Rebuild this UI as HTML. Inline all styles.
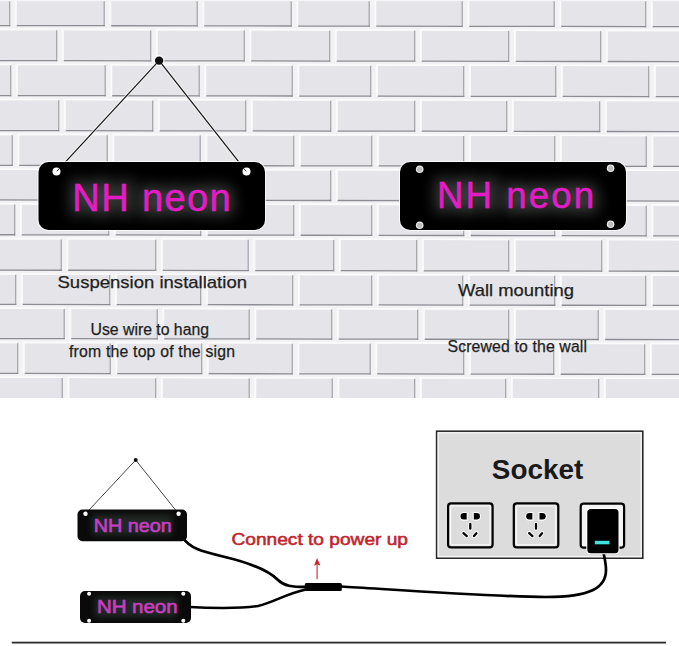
<!DOCTYPE html>
<html><head><meta charset="utf-8">
<style>
html,body{margin:0;padding:0;background:#fff;width:679px;height:646px;overflow:hidden}
svg{display:block}
text{font-family:"Liberation Sans",sans-serif}
</style></head><body>
<svg width="679" height="646" viewBox="0 0 679 646">
<defs>
<filter id="glow" x="-20%" y="-50%" width="140%" height="200%">
<feGaussianBlur stdDeviation="7"/>
</filter>
<filter id="halo" x="-10%" y="-30%" width="120%" height="160%">
<feGaussianBlur stdDeviation="1.2"/>
</filter>
<filter id="soft" x="0" y="0" width="100%" height="100%"><feGaussianBlur stdDeviation="0.45"/></filter>
<filter id="glow2" x="-20%" y="-50%" width="140%" height="200%">
<feGaussianBlur stdDeviation="3"/>
</filter>
</defs>
<g filter="url(#soft)"><rect x="0" y="0" width="679" height="398" fill="#f2f2f4"/><g transform="matrix(1 0.0016 0 1 0 0)">
<rect x="-10.0" y="0.0" width="19.7" height="25.6" fill="#e5e5e9"/>
<rect x="9.1" y="0.0" width="1.2" height="26.2" fill="#a0a1a6"/>
<rect x="-10.0" y="24.9" width="20.3" height="1.3" fill="#8c8d92"/>
<rect x="16.7" y="0.0" width="87.5" height="25.6" fill="#e5e5e9"/>
<rect x="14.9" y="0.0" width="1.8" height="25.6" fill="#fbfbfc"/>
<rect x="103.6" y="0.0" width="1.2" height="26.2" fill="#a0a1a6"/>
<rect x="16.7" y="24.9" width="88.1" height="1.3" fill="#8c8d92"/>
<rect x="111.2" y="0.0" width="86.0" height="25.6" fill="#e5e5e9"/>
<rect x="109.4" y="0.0" width="1.8" height="25.6" fill="#fbfbfc"/>
<rect x="196.6" y="0.0" width="1.2" height="26.2" fill="#a0a1a6"/>
<rect x="111.2" y="24.9" width="86.6" height="1.3" fill="#8c8d92"/>
<rect x="204.2" y="0.0" width="87.0" height="25.6" fill="#e5e5e9"/>
<rect x="202.4" y="0.0" width="1.8" height="25.6" fill="#fbfbfc"/>
<rect x="290.6" y="0.0" width="1.2" height="26.2" fill="#a0a1a6"/>
<rect x="204.2" y="24.9" width="87.6" height="1.3" fill="#8c8d92"/>
<rect x="298.2" y="0.0" width="71.0" height="25.6" fill="#e5e5e9"/>
<rect x="296.4" y="0.0" width="1.8" height="25.6" fill="#fbfbfc"/>
<rect x="368.6" y="0.0" width="1.2" height="26.2" fill="#a0a1a6"/>
<rect x="298.2" y="24.9" width="71.6" height="1.3" fill="#8c8d92"/>
<rect x="376.2" y="0.0" width="86.0" height="25.6" fill="#e5e5e9"/>
<rect x="374.4" y="0.0" width="1.8" height="25.6" fill="#fbfbfc"/>
<rect x="461.6" y="0.0" width="1.2" height="26.2" fill="#a0a1a6"/>
<rect x="376.2" y="24.9" width="86.6" height="1.3" fill="#8c8d92"/>
<rect x="469.2" y="0.0" width="85.0" height="25.6" fill="#e5e5e9"/>
<rect x="467.4" y="0.0" width="1.8" height="25.6" fill="#fbfbfc"/>
<rect x="553.6" y="0.0" width="1.2" height="26.2" fill="#a0a1a6"/>
<rect x="469.2" y="24.9" width="85.6" height="1.3" fill="#8c8d92"/>
<rect x="561.2" y="0.0" width="84.5" height="25.6" fill="#e5e5e9"/>
<rect x="559.4" y="0.0" width="1.8" height="25.6" fill="#fbfbfc"/>
<rect x="645.1" y="0.0" width="1.2" height="26.2" fill="#a0a1a6"/>
<rect x="561.2" y="24.9" width="85.1" height="1.3" fill="#8c8d92"/>
<rect x="652.7" y="0.0" width="36.3" height="25.6" fill="#e5e5e9"/>
<rect x="650.9" y="0.0" width="1.8" height="25.6" fill="#fbfbfc"/>
<rect x="652.7" y="24.9" width="36.9" height="1.3" fill="#8c8d92"/>
<rect x="-10.0" y="30.2" width="66.7" height="30.4" fill="#e5e5e9"/>
<rect x="-12.0" y="28.6" width="68.7" height="1.6" fill="#fbfbfc"/>
<rect x="56.1" y="30.2" width="1.2" height="31.0" fill="#a0a1a6"/>
<rect x="-10.0" y="59.9" width="67.3" height="1.3" fill="#8c8d92"/>
<rect x="63.7" y="30.2" width="87.0" height="30.4" fill="#e5e5e9"/>
<rect x="61.7" y="28.6" width="89.0" height="1.6" fill="#fbfbfc"/>
<rect x="61.9" y="30.2" width="1.8" height="30.4" fill="#fbfbfc"/>
<rect x="150.1" y="30.2" width="1.2" height="31.0" fill="#a0a1a6"/>
<rect x="63.7" y="59.9" width="87.6" height="1.3" fill="#8c8d92"/>
<rect x="157.7" y="30.2" width="86.5" height="30.4" fill="#e5e5e9"/>
<rect x="155.7" y="28.6" width="88.5" height="1.6" fill="#fbfbfc"/>
<rect x="155.9" y="30.2" width="1.8" height="30.4" fill="#fbfbfc"/>
<rect x="243.6" y="30.2" width="1.2" height="31.0" fill="#a0a1a6"/>
<rect x="157.7" y="59.9" width="87.1" height="1.3" fill="#8c8d92"/>
<rect x="251.2" y="30.2" width="78.5" height="30.4" fill="#e5e5e9"/>
<rect x="249.2" y="28.6" width="80.5" height="1.6" fill="#fbfbfc"/>
<rect x="249.4" y="30.2" width="1.8" height="30.4" fill="#fbfbfc"/>
<rect x="329.1" y="30.2" width="1.2" height="31.0" fill="#a0a1a6"/>
<rect x="251.2" y="59.9" width="79.1" height="1.3" fill="#8c8d92"/>
<rect x="336.7" y="30.2" width="78.0" height="30.4" fill="#e5e5e9"/>
<rect x="334.7" y="28.6" width="80.0" height="1.6" fill="#fbfbfc"/>
<rect x="334.9" y="30.2" width="1.8" height="30.4" fill="#fbfbfc"/>
<rect x="414.1" y="30.2" width="1.2" height="31.0" fill="#a0a1a6"/>
<rect x="336.7" y="59.9" width="78.6" height="1.3" fill="#8c8d92"/>
<rect x="421.7" y="30.2" width="87.0" height="30.4" fill="#e5e5e9"/>
<rect x="419.7" y="28.6" width="89.0" height="1.6" fill="#fbfbfc"/>
<rect x="419.9" y="30.2" width="1.8" height="30.4" fill="#fbfbfc"/>
<rect x="508.1" y="30.2" width="1.2" height="31.0" fill="#a0a1a6"/>
<rect x="421.7" y="59.9" width="87.6" height="1.3" fill="#8c8d92"/>
<rect x="515.7" y="30.2" width="85.0" height="30.4" fill="#e5e5e9"/>
<rect x="513.7" y="28.6" width="87.0" height="1.6" fill="#fbfbfc"/>
<rect x="513.9" y="30.2" width="1.8" height="30.4" fill="#fbfbfc"/>
<rect x="600.1" y="30.2" width="1.2" height="31.0" fill="#a0a1a6"/>
<rect x="515.7" y="59.9" width="85.6" height="1.3" fill="#8c8d92"/>
<rect x="607.7" y="30.2" width="81.3" height="30.4" fill="#e5e5e9"/>
<rect x="605.7" y="28.6" width="83.3" height="1.6" fill="#fbfbfc"/>
<rect x="605.9" y="30.2" width="1.8" height="30.4" fill="#fbfbfc"/>
<rect x="607.7" y="59.9" width="81.9" height="1.3" fill="#8c8d92"/>
<rect x="-10.0" y="65.2" width="20.7" height="30.4" fill="#e5e5e9"/>
<rect x="-12.0" y="63.6" width="22.7" height="1.6" fill="#fbfbfc"/>
<rect x="10.1" y="65.2" width="1.2" height="31.0" fill="#a0a1a6"/>
<rect x="-10.0" y="94.9" width="21.3" height="1.3" fill="#8c8d92"/>
<rect x="17.7" y="65.2" width="87.5" height="30.4" fill="#e5e5e9"/>
<rect x="15.7" y="63.6" width="89.5" height="1.6" fill="#fbfbfc"/>
<rect x="15.9" y="65.2" width="1.8" height="30.4" fill="#fbfbfc"/>
<rect x="104.6" y="65.2" width="1.2" height="31.0" fill="#a0a1a6"/>
<rect x="17.7" y="94.9" width="88.1" height="1.3" fill="#8c8d92"/>
<rect x="112.2" y="65.2" width="87.0" height="30.4" fill="#e5e5e9"/>
<rect x="110.2" y="63.6" width="89.0" height="1.6" fill="#fbfbfc"/>
<rect x="110.4" y="65.2" width="1.8" height="30.4" fill="#fbfbfc"/>
<rect x="198.6" y="65.2" width="1.2" height="31.0" fill="#a0a1a6"/>
<rect x="112.2" y="94.9" width="87.6" height="1.3" fill="#8c8d92"/>
<rect x="206.2" y="65.2" width="86.0" height="30.4" fill="#e5e5e9"/>
<rect x="204.2" y="63.6" width="88.0" height="1.6" fill="#fbfbfc"/>
<rect x="204.4" y="65.2" width="1.8" height="30.4" fill="#fbfbfc"/>
<rect x="291.6" y="65.2" width="1.2" height="31.0" fill="#a0a1a6"/>
<rect x="206.2" y="94.9" width="86.6" height="1.3" fill="#8c8d92"/>
<rect x="299.2" y="65.2" width="71.5" height="30.4" fill="#e5e5e9"/>
<rect x="297.2" y="63.6" width="73.5" height="1.6" fill="#fbfbfc"/>
<rect x="297.4" y="65.2" width="1.8" height="30.4" fill="#fbfbfc"/>
<rect x="370.1" y="65.2" width="1.2" height="31.0" fill="#a0a1a6"/>
<rect x="299.2" y="94.9" width="72.1" height="1.3" fill="#8c8d92"/>
<rect x="377.7" y="65.2" width="86.0" height="30.4" fill="#e5e5e9"/>
<rect x="375.7" y="63.6" width="88.0" height="1.6" fill="#fbfbfc"/>
<rect x="375.9" y="65.2" width="1.8" height="30.4" fill="#fbfbfc"/>
<rect x="463.1" y="65.2" width="1.2" height="31.0" fill="#a0a1a6"/>
<rect x="377.7" y="94.9" width="86.6" height="1.3" fill="#8c8d92"/>
<rect x="470.7" y="65.2" width="85.0" height="30.4" fill="#e5e5e9"/>
<rect x="468.7" y="63.6" width="87.0" height="1.6" fill="#fbfbfc"/>
<rect x="468.9" y="65.2" width="1.8" height="30.4" fill="#fbfbfc"/>
<rect x="555.1" y="65.2" width="1.2" height="31.0" fill="#a0a1a6"/>
<rect x="470.7" y="94.9" width="85.6" height="1.3" fill="#8c8d92"/>
<rect x="562.7" y="65.2" width="86.0" height="30.4" fill="#e5e5e9"/>
<rect x="560.7" y="63.6" width="88.0" height="1.6" fill="#fbfbfc"/>
<rect x="560.9" y="65.2" width="1.8" height="30.4" fill="#fbfbfc"/>
<rect x="648.1" y="65.2" width="1.2" height="31.0" fill="#a0a1a6"/>
<rect x="562.7" y="94.9" width="86.6" height="1.3" fill="#8c8d92"/>
<rect x="655.7" y="65.2" width="33.3" height="30.4" fill="#e5e5e9"/>
<rect x="653.7" y="63.6" width="35.3" height="1.6" fill="#fbfbfc"/>
<rect x="653.9" y="65.2" width="1.8" height="30.4" fill="#fbfbfc"/>
<rect x="655.7" y="94.9" width="33.9" height="1.3" fill="#8c8d92"/>
<rect x="-10.0" y="100.2" width="68.7" height="30.4" fill="#e5e5e9"/>
<rect x="-12.0" y="98.6" width="70.7" height="1.6" fill="#fbfbfc"/>
<rect x="58.1" y="100.2" width="1.2" height="31.0" fill="#a0a1a6"/>
<rect x="-10.0" y="129.9" width="69.3" height="1.3" fill="#8c8d92"/>
<rect x="65.7" y="100.2" width="87.0" height="30.4" fill="#e5e5e9"/>
<rect x="63.7" y="98.6" width="89.0" height="1.6" fill="#fbfbfc"/>
<rect x="63.9" y="100.2" width="1.8" height="30.4" fill="#fbfbfc"/>
<rect x="152.1" y="100.2" width="1.2" height="31.0" fill="#a0a1a6"/>
<rect x="65.7" y="129.9" width="87.6" height="1.3" fill="#8c8d92"/>
<rect x="159.7" y="100.2" width="86.0" height="30.4" fill="#e5e5e9"/>
<rect x="157.7" y="98.6" width="88.0" height="1.6" fill="#fbfbfc"/>
<rect x="157.9" y="100.2" width="1.8" height="30.4" fill="#fbfbfc"/>
<rect x="245.1" y="100.2" width="1.2" height="31.0" fill="#a0a1a6"/>
<rect x="159.7" y="129.9" width="86.6" height="1.3" fill="#8c8d92"/>
<rect x="252.7" y="100.2" width="78.0" height="30.4" fill="#e5e5e9"/>
<rect x="250.7" y="98.6" width="80.0" height="1.6" fill="#fbfbfc"/>
<rect x="250.9" y="100.2" width="1.8" height="30.4" fill="#fbfbfc"/>
<rect x="330.1" y="100.2" width="1.2" height="31.0" fill="#a0a1a6"/>
<rect x="252.7" y="129.9" width="78.6" height="1.3" fill="#8c8d92"/>
<rect x="337.7" y="100.2" width="77.0" height="30.4" fill="#e5e5e9"/>
<rect x="335.7" y="98.6" width="79.0" height="1.6" fill="#fbfbfc"/>
<rect x="335.9" y="100.2" width="1.8" height="30.4" fill="#fbfbfc"/>
<rect x="414.1" y="100.2" width="1.2" height="31.0" fill="#a0a1a6"/>
<rect x="337.7" y="129.9" width="77.6" height="1.3" fill="#8c8d92"/>
<rect x="421.7" y="100.2" width="85.0" height="30.4" fill="#e5e5e9"/>
<rect x="419.7" y="98.6" width="87.0" height="1.6" fill="#fbfbfc"/>
<rect x="419.9" y="100.2" width="1.8" height="30.4" fill="#fbfbfc"/>
<rect x="506.1" y="100.2" width="1.2" height="31.0" fill="#a0a1a6"/>
<rect x="421.7" y="129.9" width="85.6" height="1.3" fill="#8c8d92"/>
<rect x="513.7" y="100.2" width="86.0" height="30.4" fill="#e5e5e9"/>
<rect x="511.7" y="98.6" width="88.0" height="1.6" fill="#fbfbfc"/>
<rect x="511.9" y="100.2" width="1.8" height="30.4" fill="#fbfbfc"/>
<rect x="599.1" y="100.2" width="1.2" height="31.0" fill="#a0a1a6"/>
<rect x="513.7" y="129.9" width="86.6" height="1.3" fill="#8c8d92"/>
<rect x="606.7" y="100.2" width="82.3" height="30.4" fill="#e5e5e9"/>
<rect x="604.7" y="98.6" width="84.3" height="1.6" fill="#fbfbfc"/>
<rect x="604.9" y="100.2" width="1.8" height="30.4" fill="#fbfbfc"/>
<rect x="606.7" y="129.9" width="82.9" height="1.3" fill="#8c8d92"/>
<rect x="-10.0" y="135.2" width="22.2" height="30.2" fill="#e5e5e9"/>
<rect x="-12.0" y="133.6" width="24.2" height="1.6" fill="#fbfbfc"/>
<rect x="11.6" y="135.2" width="1.2" height="30.8" fill="#a0a1a6"/>
<rect x="-10.0" y="164.7" width="22.8" height="1.3" fill="#8c8d92"/>
<rect x="19.2" y="135.2" width="88.0" height="30.2" fill="#e5e5e9"/>
<rect x="17.2" y="133.6" width="90.0" height="1.6" fill="#fbfbfc"/>
<rect x="17.4" y="135.2" width="1.8" height="30.2" fill="#fbfbfc"/>
<rect x="106.6" y="135.2" width="1.2" height="30.8" fill="#a0a1a6"/>
<rect x="19.2" y="164.7" width="88.6" height="1.3" fill="#8c8d92"/>
<rect x="114.2" y="135.2" width="86.0" height="30.2" fill="#e5e5e9"/>
<rect x="112.2" y="133.6" width="88.0" height="1.6" fill="#fbfbfc"/>
<rect x="112.4" y="135.2" width="1.8" height="30.2" fill="#fbfbfc"/>
<rect x="199.6" y="135.2" width="1.2" height="30.8" fill="#a0a1a6"/>
<rect x="114.2" y="164.7" width="86.6" height="1.3" fill="#8c8d92"/>
<rect x="207.2" y="135.2" width="86.5" height="30.2" fill="#e5e5e9"/>
<rect x="205.2" y="133.6" width="88.5" height="1.6" fill="#fbfbfc"/>
<rect x="205.4" y="135.2" width="1.8" height="30.2" fill="#fbfbfc"/>
<rect x="293.1" y="135.2" width="1.2" height="30.8" fill="#a0a1a6"/>
<rect x="207.2" y="164.7" width="87.1" height="1.3" fill="#8c8d92"/>
<rect x="300.7" y="135.2" width="71.0" height="30.2" fill="#e5e5e9"/>
<rect x="298.7" y="133.6" width="73.0" height="1.6" fill="#fbfbfc"/>
<rect x="298.9" y="135.2" width="1.8" height="30.2" fill="#fbfbfc"/>
<rect x="371.1" y="135.2" width="1.2" height="30.8" fill="#a0a1a6"/>
<rect x="300.7" y="164.7" width="71.6" height="1.3" fill="#8c8d92"/>
<rect x="378.7" y="135.2" width="85.0" height="30.2" fill="#e5e5e9"/>
<rect x="376.7" y="133.6" width="87.0" height="1.6" fill="#fbfbfc"/>
<rect x="376.9" y="135.2" width="1.8" height="30.2" fill="#fbfbfc"/>
<rect x="463.1" y="135.2" width="1.2" height="30.8" fill="#a0a1a6"/>
<rect x="378.7" y="164.7" width="85.6" height="1.3" fill="#8c8d92"/>
<rect x="470.7" y="135.2" width="84.0" height="30.2" fill="#e5e5e9"/>
<rect x="468.7" y="133.6" width="86.0" height="1.6" fill="#fbfbfc"/>
<rect x="468.9" y="135.2" width="1.8" height="30.2" fill="#fbfbfc"/>
<rect x="554.1" y="135.2" width="1.2" height="30.8" fill="#a0a1a6"/>
<rect x="470.7" y="164.7" width="84.6" height="1.3" fill="#8c8d92"/>
<rect x="561.7" y="135.2" width="84.5" height="30.2" fill="#e5e5e9"/>
<rect x="559.7" y="133.6" width="86.5" height="1.6" fill="#fbfbfc"/>
<rect x="559.9" y="135.2" width="1.8" height="30.2" fill="#fbfbfc"/>
<rect x="645.6" y="135.2" width="1.2" height="30.8" fill="#a0a1a6"/>
<rect x="561.7" y="164.7" width="85.1" height="1.3" fill="#8c8d92"/>
<rect x="653.2" y="135.2" width="35.8" height="30.2" fill="#e5e5e9"/>
<rect x="651.2" y="133.6" width="37.8" height="1.6" fill="#fbfbfc"/>
<rect x="651.4" y="135.2" width="1.8" height="30.2" fill="#fbfbfc"/>
<rect x="653.2" y="164.7" width="36.4" height="1.3" fill="#8c8d92"/>
<rect x="-10.0" y="170.0" width="69.7" height="30.0" fill="#e5e5e9"/>
<rect x="-12.0" y="168.4" width="71.7" height="1.6" fill="#fbfbfc"/>
<rect x="59.1" y="170.0" width="1.2" height="30.6" fill="#a0a1a6"/>
<rect x="-10.0" y="199.3" width="70.3" height="1.3" fill="#8c8d92"/>
<rect x="66.7" y="170.0" width="87.0" height="30.0" fill="#e5e5e9"/>
<rect x="64.7" y="168.4" width="89.0" height="1.6" fill="#fbfbfc"/>
<rect x="64.9" y="170.0" width="1.8" height="30.0" fill="#fbfbfc"/>
<rect x="153.1" y="170.0" width="1.2" height="30.6" fill="#a0a1a6"/>
<rect x="66.7" y="199.3" width="87.6" height="1.3" fill="#8c8d92"/>
<rect x="160.7" y="170.0" width="86.0" height="30.0" fill="#e5e5e9"/>
<rect x="158.7" y="168.4" width="88.0" height="1.6" fill="#fbfbfc"/>
<rect x="158.9" y="170.0" width="1.8" height="30.0" fill="#fbfbfc"/>
<rect x="246.1" y="170.0" width="1.2" height="30.6" fill="#a0a1a6"/>
<rect x="160.7" y="199.3" width="86.6" height="1.3" fill="#8c8d92"/>
<rect x="253.7" y="170.0" width="77.0" height="30.0" fill="#e5e5e9"/>
<rect x="251.7" y="168.4" width="79.0" height="1.6" fill="#fbfbfc"/>
<rect x="251.9" y="170.0" width="1.8" height="30.0" fill="#fbfbfc"/>
<rect x="330.1" y="170.0" width="1.2" height="30.6" fill="#a0a1a6"/>
<rect x="253.7" y="199.3" width="77.6" height="1.3" fill="#8c8d92"/>
<rect x="337.7" y="170.0" width="78.0" height="30.0" fill="#e5e5e9"/>
<rect x="335.7" y="168.4" width="80.0" height="1.6" fill="#fbfbfc"/>
<rect x="335.9" y="170.0" width="1.8" height="30.0" fill="#fbfbfc"/>
<rect x="415.1" y="170.0" width="1.2" height="30.6" fill="#a0a1a6"/>
<rect x="337.7" y="199.3" width="78.6" height="1.3" fill="#8c8d92"/>
<rect x="422.7" y="170.0" width="86.0" height="30.0" fill="#e5e5e9"/>
<rect x="420.7" y="168.4" width="88.0" height="1.6" fill="#fbfbfc"/>
<rect x="420.9" y="170.0" width="1.8" height="30.0" fill="#fbfbfc"/>
<rect x="508.1" y="170.0" width="1.2" height="30.6" fill="#a0a1a6"/>
<rect x="422.7" y="199.3" width="86.6" height="1.3" fill="#8c8d92"/>
<rect x="515.7" y="170.0" width="85.0" height="30.0" fill="#e5e5e9"/>
<rect x="513.7" y="168.4" width="87.0" height="1.6" fill="#fbfbfc"/>
<rect x="513.9" y="170.0" width="1.8" height="30.0" fill="#fbfbfc"/>
<rect x="600.1" y="170.0" width="1.2" height="30.6" fill="#a0a1a6"/>
<rect x="515.7" y="199.3" width="85.6" height="1.3" fill="#8c8d92"/>
<rect x="607.7" y="170.0" width="81.3" height="30.0" fill="#e5e5e9"/>
<rect x="605.7" y="168.4" width="83.3" height="1.6" fill="#fbfbfc"/>
<rect x="605.9" y="170.0" width="1.8" height="30.0" fill="#fbfbfc"/>
<rect x="607.7" y="199.3" width="81.9" height="1.3" fill="#8c8d92"/>
<rect x="-10.0" y="204.6" width="24.7" height="30.2" fill="#e5e5e9"/>
<rect x="-12.0" y="203.0" width="26.7" height="1.6" fill="#fbfbfc"/>
<rect x="14.1" y="204.6" width="1.2" height="30.8" fill="#a0a1a6"/>
<rect x="-10.0" y="234.1" width="25.3" height="1.3" fill="#8c8d92"/>
<rect x="21.7" y="204.6" width="87.0" height="30.2" fill="#e5e5e9"/>
<rect x="19.7" y="203.0" width="89.0" height="1.6" fill="#fbfbfc"/>
<rect x="19.9" y="204.6" width="1.8" height="30.2" fill="#fbfbfc"/>
<rect x="108.1" y="204.6" width="1.2" height="30.8" fill="#a0a1a6"/>
<rect x="21.7" y="234.1" width="87.6" height="1.3" fill="#8c8d92"/>
<rect x="115.7" y="204.6" width="85.0" height="30.2" fill="#e5e5e9"/>
<rect x="113.7" y="203.0" width="87.0" height="1.6" fill="#fbfbfc"/>
<rect x="113.9" y="204.6" width="1.8" height="30.2" fill="#fbfbfc"/>
<rect x="200.1" y="204.6" width="1.2" height="30.8" fill="#a0a1a6"/>
<rect x="115.7" y="234.1" width="85.6" height="1.3" fill="#8c8d92"/>
<rect x="207.7" y="204.6" width="86.0" height="30.2" fill="#e5e5e9"/>
<rect x="205.7" y="203.0" width="88.0" height="1.6" fill="#fbfbfc"/>
<rect x="205.9" y="204.6" width="1.8" height="30.2" fill="#fbfbfc"/>
<rect x="293.1" y="204.6" width="1.2" height="30.8" fill="#a0a1a6"/>
<rect x="207.7" y="234.1" width="86.6" height="1.3" fill="#8c8d92"/>
<rect x="300.7" y="204.6" width="71.0" height="30.2" fill="#e5e5e9"/>
<rect x="298.7" y="203.0" width="73.0" height="1.6" fill="#fbfbfc"/>
<rect x="298.9" y="204.6" width="1.8" height="30.2" fill="#fbfbfc"/>
<rect x="371.1" y="204.6" width="1.2" height="30.8" fill="#a0a1a6"/>
<rect x="300.7" y="234.1" width="71.6" height="1.3" fill="#8c8d92"/>
<rect x="378.7" y="204.6" width="85.0" height="30.2" fill="#e5e5e9"/>
<rect x="376.7" y="203.0" width="87.0" height="1.6" fill="#fbfbfc"/>
<rect x="376.9" y="204.6" width="1.8" height="30.2" fill="#fbfbfc"/>
<rect x="463.1" y="204.6" width="1.2" height="30.8" fill="#a0a1a6"/>
<rect x="378.7" y="234.1" width="85.6" height="1.3" fill="#8c8d92"/>
<rect x="470.7" y="204.6" width="84.0" height="30.2" fill="#e5e5e9"/>
<rect x="468.7" y="203.0" width="86.0" height="1.6" fill="#fbfbfc"/>
<rect x="468.9" y="204.6" width="1.8" height="30.2" fill="#fbfbfc"/>
<rect x="554.1" y="204.6" width="1.2" height="30.8" fill="#a0a1a6"/>
<rect x="470.7" y="234.1" width="84.6" height="1.3" fill="#8c8d92"/>
<rect x="561.7" y="204.6" width="84.5" height="30.2" fill="#e5e5e9"/>
<rect x="559.7" y="203.0" width="86.5" height="1.6" fill="#fbfbfc"/>
<rect x="559.9" y="204.6" width="1.8" height="30.2" fill="#fbfbfc"/>
<rect x="645.6" y="204.6" width="1.2" height="30.8" fill="#a0a1a6"/>
<rect x="561.7" y="234.1" width="85.1" height="1.3" fill="#8c8d92"/>
<rect x="653.2" y="204.6" width="35.8" height="30.2" fill="#e5e5e9"/>
<rect x="651.2" y="203.0" width="37.8" height="1.6" fill="#fbfbfc"/>
<rect x="651.4" y="204.6" width="1.8" height="30.2" fill="#fbfbfc"/>
<rect x="653.2" y="234.1" width="36.4" height="1.3" fill="#8c8d92"/>
<rect x="-10.0" y="239.4" width="71.2" height="30.8" fill="#e5e5e9"/>
<rect x="-12.0" y="237.8" width="73.2" height="1.6" fill="#fbfbfc"/>
<rect x="60.6" y="239.4" width="1.2" height="31.4" fill="#a0a1a6"/>
<rect x="-10.0" y="269.5" width="71.8" height="1.3" fill="#8c8d92"/>
<rect x="68.2" y="239.4" width="87.5" height="30.8" fill="#e5e5e9"/>
<rect x="66.2" y="237.8" width="89.5" height="1.6" fill="#fbfbfc"/>
<rect x="66.4" y="239.4" width="1.8" height="30.8" fill="#fbfbfc"/>
<rect x="155.1" y="239.4" width="1.2" height="31.4" fill="#a0a1a6"/>
<rect x="68.2" y="269.5" width="88.1" height="1.3" fill="#8c8d92"/>
<rect x="162.7" y="239.4" width="85.5" height="30.8" fill="#e5e5e9"/>
<rect x="160.7" y="237.8" width="87.5" height="1.6" fill="#fbfbfc"/>
<rect x="160.9" y="239.4" width="1.8" height="30.8" fill="#fbfbfc"/>
<rect x="247.6" y="239.4" width="1.2" height="31.4" fill="#a0a1a6"/>
<rect x="162.7" y="269.5" width="86.1" height="1.3" fill="#8c8d92"/>
<rect x="255.2" y="239.4" width="78.5" height="30.8" fill="#e5e5e9"/>
<rect x="253.2" y="237.8" width="80.5" height="1.6" fill="#fbfbfc"/>
<rect x="253.4" y="239.4" width="1.8" height="30.8" fill="#fbfbfc"/>
<rect x="333.1" y="239.4" width="1.2" height="31.4" fill="#a0a1a6"/>
<rect x="255.2" y="269.5" width="79.1" height="1.3" fill="#8c8d92"/>
<rect x="340.7" y="239.4" width="76.0" height="30.8" fill="#e5e5e9"/>
<rect x="338.7" y="237.8" width="78.0" height="1.6" fill="#fbfbfc"/>
<rect x="338.9" y="239.4" width="1.8" height="30.8" fill="#fbfbfc"/>
<rect x="416.1" y="239.4" width="1.2" height="31.4" fill="#a0a1a6"/>
<rect x="340.7" y="269.5" width="76.6" height="1.3" fill="#8c8d92"/>
<rect x="423.7" y="239.4" width="85.0" height="30.8" fill="#e5e5e9"/>
<rect x="421.7" y="237.8" width="87.0" height="1.6" fill="#fbfbfc"/>
<rect x="421.9" y="239.4" width="1.8" height="30.8" fill="#fbfbfc"/>
<rect x="508.1" y="239.4" width="1.2" height="31.4" fill="#a0a1a6"/>
<rect x="423.7" y="269.5" width="85.6" height="1.3" fill="#8c8d92"/>
<rect x="515.7" y="239.4" width="86.0" height="30.8" fill="#e5e5e9"/>
<rect x="513.7" y="237.8" width="88.0" height="1.6" fill="#fbfbfc"/>
<rect x="513.9" y="239.4" width="1.8" height="30.8" fill="#fbfbfc"/>
<rect x="601.1" y="239.4" width="1.2" height="31.4" fill="#a0a1a6"/>
<rect x="515.7" y="269.5" width="86.6" height="1.3" fill="#8c8d92"/>
<rect x="608.7" y="239.4" width="80.3" height="30.8" fill="#e5e5e9"/>
<rect x="606.7" y="237.8" width="82.3" height="1.6" fill="#fbfbfc"/>
<rect x="606.9" y="239.4" width="1.8" height="30.8" fill="#fbfbfc"/>
<rect x="608.7" y="269.5" width="80.9" height="1.3" fill="#8c8d92"/>
<rect x="-10.0" y="274.8" width="25.7" height="29.6" fill="#e5e5e9"/>
<rect x="-12.0" y="273.2" width="27.7" height="1.6" fill="#fbfbfc"/>
<rect x="15.1" y="274.8" width="1.2" height="30.2" fill="#a0a1a6"/>
<rect x="-10.0" y="303.7" width="26.3" height="1.3" fill="#8c8d92"/>
<rect x="22.7" y="274.8" width="87.0" height="29.6" fill="#e5e5e9"/>
<rect x="20.7" y="273.2" width="89.0" height="1.6" fill="#fbfbfc"/>
<rect x="20.9" y="274.8" width="1.8" height="29.6" fill="#fbfbfc"/>
<rect x="109.1" y="274.8" width="1.2" height="30.2" fill="#a0a1a6"/>
<rect x="22.7" y="303.7" width="87.6" height="1.3" fill="#8c8d92"/>
<rect x="116.7" y="274.8" width="84.0" height="29.6" fill="#e5e5e9"/>
<rect x="114.7" y="273.2" width="86.0" height="1.6" fill="#fbfbfc"/>
<rect x="114.9" y="274.8" width="1.8" height="29.6" fill="#fbfbfc"/>
<rect x="200.1" y="274.8" width="1.2" height="30.2" fill="#a0a1a6"/>
<rect x="116.7" y="303.7" width="84.6" height="1.3" fill="#8c8d92"/>
<rect x="207.7" y="274.8" width="85.0" height="29.6" fill="#e5e5e9"/>
<rect x="205.7" y="273.2" width="87.0" height="1.6" fill="#fbfbfc"/>
<rect x="205.9" y="274.8" width="1.8" height="29.6" fill="#fbfbfc"/>
<rect x="292.1" y="274.8" width="1.2" height="30.2" fill="#a0a1a6"/>
<rect x="207.7" y="303.7" width="85.6" height="1.3" fill="#8c8d92"/>
<rect x="299.7" y="274.8" width="72.0" height="29.6" fill="#e5e5e9"/>
<rect x="297.7" y="273.2" width="74.0" height="1.6" fill="#fbfbfc"/>
<rect x="297.9" y="274.8" width="1.8" height="29.6" fill="#fbfbfc"/>
<rect x="371.1" y="274.8" width="1.2" height="30.2" fill="#a0a1a6"/>
<rect x="299.7" y="303.7" width="72.6" height="1.3" fill="#8c8d92"/>
<rect x="378.7" y="274.8" width="84.0" height="29.6" fill="#e5e5e9"/>
<rect x="376.7" y="273.2" width="86.0" height="1.6" fill="#fbfbfc"/>
<rect x="376.9" y="274.8" width="1.8" height="29.6" fill="#fbfbfc"/>
<rect x="462.1" y="274.8" width="1.2" height="30.2" fill="#a0a1a6"/>
<rect x="378.7" y="303.7" width="84.6" height="1.3" fill="#8c8d92"/>
<rect x="469.7" y="274.8" width="85.0" height="29.6" fill="#e5e5e9"/>
<rect x="467.7" y="273.2" width="87.0" height="1.6" fill="#fbfbfc"/>
<rect x="467.9" y="274.8" width="1.8" height="29.6" fill="#fbfbfc"/>
<rect x="554.1" y="274.8" width="1.2" height="30.2" fill="#a0a1a6"/>
<rect x="469.7" y="303.7" width="85.6" height="1.3" fill="#8c8d92"/>
<rect x="561.7" y="274.8" width="84.0" height="29.6" fill="#e5e5e9"/>
<rect x="559.7" y="273.2" width="86.0" height="1.6" fill="#fbfbfc"/>
<rect x="559.9" y="274.8" width="1.8" height="29.6" fill="#fbfbfc"/>
<rect x="645.1" y="274.8" width="1.2" height="30.2" fill="#a0a1a6"/>
<rect x="561.7" y="303.7" width="84.6" height="1.3" fill="#8c8d92"/>
<rect x="652.7" y="274.8" width="36.3" height="29.6" fill="#e5e5e9"/>
<rect x="650.7" y="273.2" width="38.3" height="1.6" fill="#fbfbfc"/>
<rect x="650.9" y="274.8" width="1.8" height="29.6" fill="#fbfbfc"/>
<rect x="652.7" y="303.7" width="36.9" height="1.3" fill="#8c8d92"/>
<rect x="-10.0" y="309.0" width="74.2" height="29.6" fill="#e5e5e9"/>
<rect x="-12.0" y="307.4" width="76.2" height="1.6" fill="#fbfbfc"/>
<rect x="63.6" y="309.0" width="1.2" height="30.2" fill="#a0a1a6"/>
<rect x="-10.0" y="337.9" width="74.8" height="1.3" fill="#8c8d92"/>
<rect x="71.2" y="309.0" width="86.0" height="29.6" fill="#e5e5e9"/>
<rect x="69.2" y="307.4" width="88.0" height="1.6" fill="#fbfbfc"/>
<rect x="69.4" y="309.0" width="1.8" height="29.6" fill="#fbfbfc"/>
<rect x="156.6" y="309.0" width="1.2" height="30.2" fill="#a0a1a6"/>
<rect x="71.2" y="337.9" width="86.6" height="1.3" fill="#8c8d92"/>
<rect x="164.2" y="309.0" width="85.0" height="29.6" fill="#e5e5e9"/>
<rect x="162.2" y="307.4" width="87.0" height="1.6" fill="#fbfbfc"/>
<rect x="162.4" y="309.0" width="1.8" height="29.6" fill="#fbfbfc"/>
<rect x="248.6" y="309.0" width="1.2" height="30.2" fill="#a0a1a6"/>
<rect x="164.2" y="337.9" width="85.6" height="1.3" fill="#8c8d92"/>
<rect x="256.2" y="309.0" width="75.5" height="29.6" fill="#e5e5e9"/>
<rect x="254.2" y="307.4" width="77.5" height="1.6" fill="#fbfbfc"/>
<rect x="254.4" y="309.0" width="1.8" height="29.6" fill="#fbfbfc"/>
<rect x="331.1" y="309.0" width="1.2" height="30.2" fill="#a0a1a6"/>
<rect x="256.2" y="337.9" width="76.1" height="1.3" fill="#8c8d92"/>
<rect x="338.7" y="309.0" width="79.0" height="29.6" fill="#e5e5e9"/>
<rect x="336.7" y="307.4" width="81.0" height="1.6" fill="#fbfbfc"/>
<rect x="336.9" y="309.0" width="1.8" height="29.6" fill="#fbfbfc"/>
<rect x="417.1" y="309.0" width="1.2" height="30.2" fill="#a0a1a6"/>
<rect x="338.7" y="337.9" width="79.6" height="1.3" fill="#8c8d92"/>
<rect x="424.7" y="309.0" width="84.0" height="29.6" fill="#e5e5e9"/>
<rect x="422.7" y="307.4" width="86.0" height="1.6" fill="#fbfbfc"/>
<rect x="422.9" y="309.0" width="1.8" height="29.6" fill="#fbfbfc"/>
<rect x="508.1" y="309.0" width="1.2" height="30.2" fill="#a0a1a6"/>
<rect x="424.7" y="337.9" width="84.6" height="1.3" fill="#8c8d92"/>
<rect x="515.7" y="309.0" width="82.5" height="29.6" fill="#e5e5e9"/>
<rect x="513.7" y="307.4" width="84.5" height="1.6" fill="#fbfbfc"/>
<rect x="513.9" y="309.0" width="1.8" height="29.6" fill="#fbfbfc"/>
<rect x="597.6" y="309.0" width="1.2" height="30.2" fill="#a0a1a6"/>
<rect x="515.7" y="337.9" width="83.1" height="1.3" fill="#8c8d92"/>
<rect x="605.2" y="309.0" width="83.8" height="29.6" fill="#e5e5e9"/>
<rect x="603.2" y="307.4" width="85.8" height="1.6" fill="#fbfbfc"/>
<rect x="603.4" y="309.0" width="1.8" height="29.6" fill="#fbfbfc"/>
<rect x="605.2" y="337.9" width="84.4" height="1.3" fill="#8c8d92"/>
<rect x="-10.0" y="343.2" width="27.7" height="30.2" fill="#e5e5e9"/>
<rect x="-12.0" y="341.6" width="29.7" height="1.6" fill="#fbfbfc"/>
<rect x="17.1" y="343.2" width="1.2" height="30.8" fill="#a0a1a6"/>
<rect x="-10.0" y="372.7" width="28.3" height="1.3" fill="#8c8d92"/>
<rect x="24.7" y="343.2" width="85.5" height="30.2" fill="#e5e5e9"/>
<rect x="22.7" y="341.6" width="87.5" height="1.6" fill="#fbfbfc"/>
<rect x="22.9" y="343.2" width="1.8" height="30.2" fill="#fbfbfc"/>
<rect x="109.6" y="343.2" width="1.2" height="30.8" fill="#a0a1a6"/>
<rect x="24.7" y="372.7" width="86.1" height="1.3" fill="#8c8d92"/>
<rect x="117.2" y="343.2" width="84.5" height="30.2" fill="#e5e5e9"/>
<rect x="115.2" y="341.6" width="86.5" height="1.6" fill="#fbfbfc"/>
<rect x="115.4" y="343.2" width="1.8" height="30.2" fill="#fbfbfc"/>
<rect x="201.1" y="343.2" width="1.2" height="30.8" fill="#a0a1a6"/>
<rect x="117.2" y="372.7" width="85.1" height="1.3" fill="#8c8d92"/>
<rect x="208.7" y="343.2" width="83.5" height="30.2" fill="#e5e5e9"/>
<rect x="206.7" y="341.6" width="85.5" height="1.6" fill="#fbfbfc"/>
<rect x="206.9" y="343.2" width="1.8" height="30.2" fill="#fbfbfc"/>
<rect x="291.6" y="343.2" width="1.2" height="30.8" fill="#a0a1a6"/>
<rect x="208.7" y="372.7" width="84.1" height="1.3" fill="#8c8d92"/>
<rect x="299.2" y="343.2" width="71.0" height="30.2" fill="#e5e5e9"/>
<rect x="297.2" y="341.6" width="73.0" height="1.6" fill="#fbfbfc"/>
<rect x="297.4" y="343.2" width="1.8" height="30.2" fill="#fbfbfc"/>
<rect x="369.6" y="343.2" width="1.2" height="30.8" fill="#a0a1a6"/>
<rect x="299.2" y="372.7" width="71.6" height="1.3" fill="#8c8d92"/>
<rect x="377.2" y="343.2" width="86.5" height="30.2" fill="#e5e5e9"/>
<rect x="375.2" y="341.6" width="88.5" height="1.6" fill="#fbfbfc"/>
<rect x="375.4" y="343.2" width="1.8" height="30.2" fill="#fbfbfc"/>
<rect x="463.1" y="343.2" width="1.2" height="30.8" fill="#a0a1a6"/>
<rect x="377.2" y="372.7" width="87.1" height="1.3" fill="#8c8d92"/>
<rect x="470.7" y="343.2" width="83.0" height="30.2" fill="#e5e5e9"/>
<rect x="468.7" y="341.6" width="85.0" height="1.6" fill="#fbfbfc"/>
<rect x="468.9" y="343.2" width="1.8" height="30.2" fill="#fbfbfc"/>
<rect x="553.1" y="343.2" width="1.2" height="30.8" fill="#a0a1a6"/>
<rect x="470.7" y="372.7" width="83.6" height="1.3" fill="#8c8d92"/>
<rect x="560.7" y="343.2" width="84.0" height="30.2" fill="#e5e5e9"/>
<rect x="558.7" y="341.6" width="86.0" height="1.6" fill="#fbfbfc"/>
<rect x="558.9" y="343.2" width="1.8" height="30.2" fill="#fbfbfc"/>
<rect x="644.1" y="343.2" width="1.2" height="30.8" fill="#a0a1a6"/>
<rect x="560.7" y="372.7" width="84.6" height="1.3" fill="#8c8d92"/>
<rect x="651.7" y="343.2" width="37.3" height="30.2" fill="#e5e5e9"/>
<rect x="649.7" y="341.6" width="39.3" height="1.6" fill="#fbfbfc"/>
<rect x="649.9" y="343.2" width="1.8" height="30.2" fill="#fbfbfc"/>
<rect x="651.7" y="372.7" width="37.9" height="1.3" fill="#8c8d92"/>
<rect x="-10.0" y="378.0" width="72.2" height="30.0" fill="#e5e5e9"/>
<rect x="-12.0" y="376.4" width="74.2" height="1.6" fill="#fbfbfc"/>
<rect x="61.6" y="378.0" width="1.2" height="30.6" fill="#a0a1a6"/>
<rect x="69.2" y="378.0" width="86.5" height="30.0" fill="#e5e5e9"/>
<rect x="67.2" y="376.4" width="88.5" height="1.6" fill="#fbfbfc"/>
<rect x="67.4" y="378.0" width="1.8" height="30.0" fill="#fbfbfc"/>
<rect x="155.1" y="378.0" width="1.2" height="30.6" fill="#a0a1a6"/>
<rect x="162.7" y="378.0" width="86.5" height="30.0" fill="#e5e5e9"/>
<rect x="160.7" y="376.4" width="88.5" height="1.6" fill="#fbfbfc"/>
<rect x="160.9" y="378.0" width="1.8" height="30.0" fill="#fbfbfc"/>
<rect x="248.6" y="378.0" width="1.2" height="30.6" fill="#a0a1a6"/>
<rect x="256.2" y="378.0" width="76.0" height="30.0" fill="#e5e5e9"/>
<rect x="254.2" y="376.4" width="78.0" height="1.6" fill="#fbfbfc"/>
<rect x="254.4" y="378.0" width="1.8" height="30.0" fill="#fbfbfc"/>
<rect x="331.6" y="378.0" width="1.2" height="30.6" fill="#a0a1a6"/>
<rect x="339.2" y="378.0" width="75.5" height="30.0" fill="#e5e5e9"/>
<rect x="337.2" y="376.4" width="77.5" height="1.6" fill="#fbfbfc"/>
<rect x="337.4" y="378.0" width="1.8" height="30.0" fill="#fbfbfc"/>
<rect x="414.1" y="378.0" width="1.2" height="30.6" fill="#a0a1a6"/>
<rect x="421.7" y="378.0" width="84.0" height="30.0" fill="#e5e5e9"/>
<rect x="419.7" y="376.4" width="86.0" height="1.6" fill="#fbfbfc"/>
<rect x="419.9" y="378.0" width="1.8" height="30.0" fill="#fbfbfc"/>
<rect x="505.1" y="378.0" width="1.2" height="30.6" fill="#a0a1a6"/>
<rect x="512.7" y="378.0" width="86.0" height="30.0" fill="#e5e5e9"/>
<rect x="510.7" y="376.4" width="88.0" height="1.6" fill="#fbfbfc"/>
<rect x="510.9" y="378.0" width="1.8" height="30.0" fill="#fbfbfc"/>
<rect x="598.1" y="378.0" width="1.2" height="30.6" fill="#a0a1a6"/>
<rect x="605.7" y="378.0" width="83.3" height="30.0" fill="#e5e5e9"/>
<rect x="603.7" y="376.4" width="85.3" height="1.6" fill="#fbfbfc"/>
<rect x="603.9" y="378.0" width="1.8" height="30.0" fill="#fbfbfc"/>
</g><rect x="0" y="0" width="679" height="1.2" fill="#f6f6f8"/></g>
<rect x="0" y="398" width="679" height="248" fill="#ffffff"/>
<!-- suspension sign -->
<line x1="159.1" y1="60.6" x2="56.5" y2="171.6" stroke="#fff" stroke-width="3" opacity="0.7"/>
<line x1="159.1" y1="60.6" x2="246.5" y2="171.6" stroke="#fff" stroke-width="3" opacity="0.7"/>
<circle cx="159.1" cy="60.6" r="5.5" fill="#fff" opacity="0.8"/>
<line x1="159.1" y1="60.6" x2="56.5" y2="171.6" stroke="#1a1a1a" stroke-width="1.3"/>
<line x1="159.1" y1="60.6" x2="246.5" y2="171.6" stroke="#1a1a1a" stroke-width="1.3"/>
<circle cx="159.1" cy="60.6" r="4.2" fill="#111"/>
<rect x="37.5" y="161" width="228.5" height="70" rx="11" fill="#fff" opacity="0.8"/>
<rect x="38.5" y="162" width="226.5" height="68" rx="10" fill="#000"/>
<text x="72.3" y="210.6" font-size="38" fill="#777" stroke="#5a5f5c" stroke-width="9" filter="url(#glow)" opacity="0.6" textLength="159.2" lengthAdjust="spacingAndGlyphs">NH neon</text>
<circle cx="56.5" cy="171.6" r="4" fill="#fff"/>
<circle cx="246.5" cy="171.6" r="4" fill="#fff"/>
<line x1="60.2" y1="167.6" x2="56.8" y2="171.3" stroke="#333" stroke-width="1"/>
<line x1="242.8" y1="167.6" x2="246.2" y2="171.3" stroke="#333" stroke-width="1"/>
<text x="72.3" y="210.6" font-size="38" fill="#e41cc6" stroke="#e41cc6" stroke-width="0.5" textLength="158.4" lengthAdjust="spacing">NH neon</text>

<!-- wall sign -->
<rect x="399" y="161" width="228" height="70" rx="11" fill="#fff" opacity="0.8"/>
<rect x="400" y="162" width="226" height="68" rx="10" fill="#000"/>
<text x="437" y="207.7" font-size="36" fill="#777" stroke="#5a5f5c" stroke-width="9" filter="url(#glow)" opacity="0.6" textLength="158.4" lengthAdjust="spacingAndGlyphs">NH neon</text>
<circle cx="419.7" cy="169.3" r="3.8" fill="#e8e8e8"/>
<circle cx="419.7" cy="169.3" r="2.6" fill="#bcbcbc"/>
<circle cx="610.6" cy="168.3" r="3.8" fill="#e8e8e8"/>
<circle cx="610.6" cy="168.3" r="2.6" fill="#bcbcbc"/>
<circle cx="419.7" cy="225.3" r="3.8" fill="#e8e8e8"/>
<circle cx="419.7" cy="225.3" r="2.6" fill="#bcbcbc"/>
<circle cx="610.6" cy="224.3" r="3.8" fill="#e8e8e8"/>
<circle cx="610.6" cy="224.3" r="2.6" fill="#bcbcbc"/>
<text x="437" y="207.7" font-size="36.5" fill="#e41cc6" stroke="#e41cc6" stroke-width="0.5" textLength="157" lengthAdjust="spacing">NH neon</text>

<!-- labels -->
<text x="57.5" y="287.6" font-size="17" fill="#1e1e1e" stroke="#1e1e1e" stroke-width="0.25" textLength="189.5" lengthAdjust="spacingAndGlyphs">Suspension installation</text>
<text x="90.5" y="334.6" font-size="15.8" fill="#1e1e1e" stroke="#1e1e1e" stroke-width="0.25" textLength="118.5" lengthAdjust="spacing">Use wire to hang</text>
<text x="69" y="356.5" font-size="15.8" fill="#1e1e1e" stroke="#1e1e1e" stroke-width="0.25" textLength="166" lengthAdjust="spacing">from the top of the sign</text>
<text x="458" y="295.8" font-size="17" fill="#1e1e1e" stroke="#1e1e1e" stroke-width="0.25" textLength="116" lengthAdjust="spacingAndGlyphs">Wall mounting</text>
<text x="447.5" y="351.6" font-size="15.8" fill="#1e1e1e" stroke="#1e1e1e" stroke-width="0.25" textLength="139.5" lengthAdjust="spacing">Screwed to the wall</text>

<!-- bottom diagram -->
<line x1="135.7" y1="460" x2="85.5" y2="513.8" stroke="#333" stroke-width="0.9"/>
<line x1="135.7" y1="460" x2="178.6" y2="513.8" stroke="#333" stroke-width="0.9"/>
<circle cx="135.7" cy="460" r="2" fill="#111"/>
<path d="M183 538 C 190 548, 200 551, 225 557 C 250 563, 268 570, 278 580 C 284 586, 292 587, 306 587" fill="none" stroke="#000" stroke-width="2.8"/>
<path d="M190 607 C 205 608, 240 609, 258 606 C 275 602, 285 594, 306 589.5" fill="none" stroke="#000" stroke-width="2.6"/>
<rect x="77.5" y="509.6" width="109.5" height="31.6" rx="5" fill="#0a0a0a"/>
<rect x="92" y="515" width="80" height="20" fill="#3a4a40" filter="url(#glow2)" opacity="0.5"/>
<circle cx="85.5" cy="513.8" r="2.2" fill="#fff"/>
<circle cx="178.6" cy="513.8" r="2.2" fill="#fff"/>
<text x="93.7" y="532" font-size="17.5" fill="#c73ec3" stroke="#c73ec3" stroke-width="0.6" textLength="78" lengthAdjust="spacingAndGlyphs">NH neon</text>
<rect x="80" y="591" width="111" height="32" rx="5" fill="#0a0a0a"/>
<rect x="95" y="597" width="82" height="20" fill="#3a4a40" filter="url(#glow2)" opacity="0.5"/>
<circle cx="89.1" cy="593.8" r="2" fill="#fff"/>
<circle cx="183.3" cy="593.8" r="2" fill="#fff"/>
<circle cx="89.1" cy="620.8" r="2" fill="#fff"/>
<circle cx="183.3" cy="620.8" r="2" fill="#fff"/>
<text x="96.9" y="612.9" font-size="17.5" fill="#c73ec3" stroke="#c73ec3" stroke-width="0.6" textLength="80.7" lengthAdjust="spacingAndGlyphs">NH neon</text>
<rect x="304.8" y="582.9" width="37" height="8" rx="1.5" fill="#000"/>
<line x1="317.1" y1="563" x2="317.1" y2="579.3" stroke="#d23a4c" stroke-width="1.2"/>
<path d="M313.9 565.8 L317.1 557.9 L320.4 565.8 L317.1 564.3 Z" fill="#c8262c"/>
<text x="231.5" y="544.6" font-size="17" fill="#bf252c" stroke="#bf252c" stroke-width="0.55" textLength="176.5" lengthAdjust="spacingAndGlyphs">Connect to power up</text>

<!-- socket -->
<rect x="436.6" y="431.2" width="206.2" height="127" fill="#dcdcdc" stroke="#2a2a2a" stroke-width="1.6"/>
<rect x="438.2" y="432.8" width="203" height="123.8" fill="none" stroke="#f6f6f6" stroke-width="1.2"/>
<text x="491.8" y="478.5" font-size="28" font-weight="bold" fill="#1a1a1a" textLength="91.5" lengthAdjust="spacingAndGlyphs">Socket</text>
<g id="out1">
<rect x="448.1" y="503.4" width="44.5" height="44" rx="3" fill="#dcdcdc" stroke="#000" stroke-width="2.2"/>
<rect x="450.6" y="505.9" width="39.5" height="39" rx="1" fill="none" stroke="#fff" stroke-width="1"/>
</g>
<rect x="513.8" y="503.4" width="44.5" height="44" rx="3" fill="#dcdcdc" stroke="#000" stroke-width="2.2"/>
<rect x="516.3" y="505.9" width="39.5" height="39" rx="1" fill="none" stroke="#fff" stroke-width="1"/>
<rect x="580.7" y="503.7" width="43.4" height="44" rx="3" fill="#f4f4f4" stroke="#000" stroke-width="2.2"/>
<path d="M341 586.5 C 400 590, 500 597, 546 597 C 590 597, 606 588, 606 570 C 606 562, 604 556, 602 546" fill="none" stroke="#000" stroke-width="2.7"/>
<rect x="586.3" y="507.9" width="33.2" height="46.3" rx="4" fill="#fff"/>
<rect x="587.3" y="508.9" width="31.2" height="44.3" rx="3.5" fill="#000"/>
<rect x="594.8" y="540.8" width="14.6" height="3.5" fill="#3fe3da"/>
<path d="M466.7 513.0 H463.8 A3.3 3.3 0 0 0 463.8 519.6 H466.7 Z" fill="#fff" stroke="#fff" stroke-width="2.2" stroke-linejoin="round"/>
<path d="M473.8 513.0 H476.7 A3.3 3.3 0 0 1 476.7 519.6 H473.8 Z" fill="#fff" stroke="#fff" stroke-width="2.2" stroke-linejoin="round"/>
<line x1="470.3" y1="524.0" x2="470.3" y2="528.7" stroke="#fff" stroke-width="4.2" stroke-linecap="round"/>
<line x1="463.5" y1="533.1" x2="466.8" y2="536.1" stroke="#fff" stroke-width="4.2" stroke-linecap="round"/>
<line x1="476.4" y1="533.3" x2="474.0" y2="536.1" stroke="#fff" stroke-width="4.2" stroke-linecap="round"/>
<path d="M466.7 513.0 H463.8 A3.3 3.3 0 0 0 463.8 519.6 H466.7 Z" fill="#000"/>
<path d="M473.8 513.0 H476.7 A3.3 3.3 0 0 1 476.7 519.6 H473.8 Z" fill="#000"/>
<line x1="470.3" y1="524.0" x2="470.3" y2="528.7" stroke="#000" stroke-width="2.3" stroke-linecap="round"/>
<line x1="463.5" y1="533.1" x2="466.8" y2="536.1" stroke="#000" stroke-width="2.3" stroke-linecap="round"/>
<line x1="476.4" y1="533.3" x2="474.0" y2="536.1" stroke="#000" stroke-width="2.3" stroke-linecap="round"/>
<path d="M532.4 513.0 H529.5 A3.3 3.3 0 0 0 529.5 519.6 H532.4 Z" fill="#fff" stroke="#fff" stroke-width="2.2" stroke-linejoin="round"/>
<path d="M539.5 513.0 H542.4 A3.3 3.3 0 0 1 542.4 519.6 H539.5 Z" fill="#fff" stroke="#fff" stroke-width="2.2" stroke-linejoin="round"/>
<line x1="536.0" y1="524.0" x2="536.0" y2="528.7" stroke="#fff" stroke-width="4.2" stroke-linecap="round"/>
<line x1="529.2" y1="533.1" x2="532.5" y2="536.1" stroke="#fff" stroke-width="4.2" stroke-linecap="round"/>
<line x1="542.1" y1="533.3" x2="539.7" y2="536.1" stroke="#fff" stroke-width="4.2" stroke-linecap="round"/>
<path d="M532.4 513.0 H529.5 A3.3 3.3 0 0 0 529.5 519.6 H532.4 Z" fill="#000"/>
<path d="M539.5 513.0 H542.4 A3.3 3.3 0 0 1 542.4 519.6 H539.5 Z" fill="#000"/>
<line x1="536.0" y1="524.0" x2="536.0" y2="528.7" stroke="#000" stroke-width="2.3" stroke-linecap="round"/>
<line x1="529.2" y1="533.1" x2="532.5" y2="536.1" stroke="#000" stroke-width="2.3" stroke-linecap="round"/>
<line x1="542.1" y1="533.3" x2="539.7" y2="536.1" stroke="#000" stroke-width="2.3" stroke-linecap="round"/>
<!-- bottom line -->
<rect x="11.8" y="641.7" width="654.2" height="1.8" fill="#2a2a2a"/>
</svg>
</body></html>
